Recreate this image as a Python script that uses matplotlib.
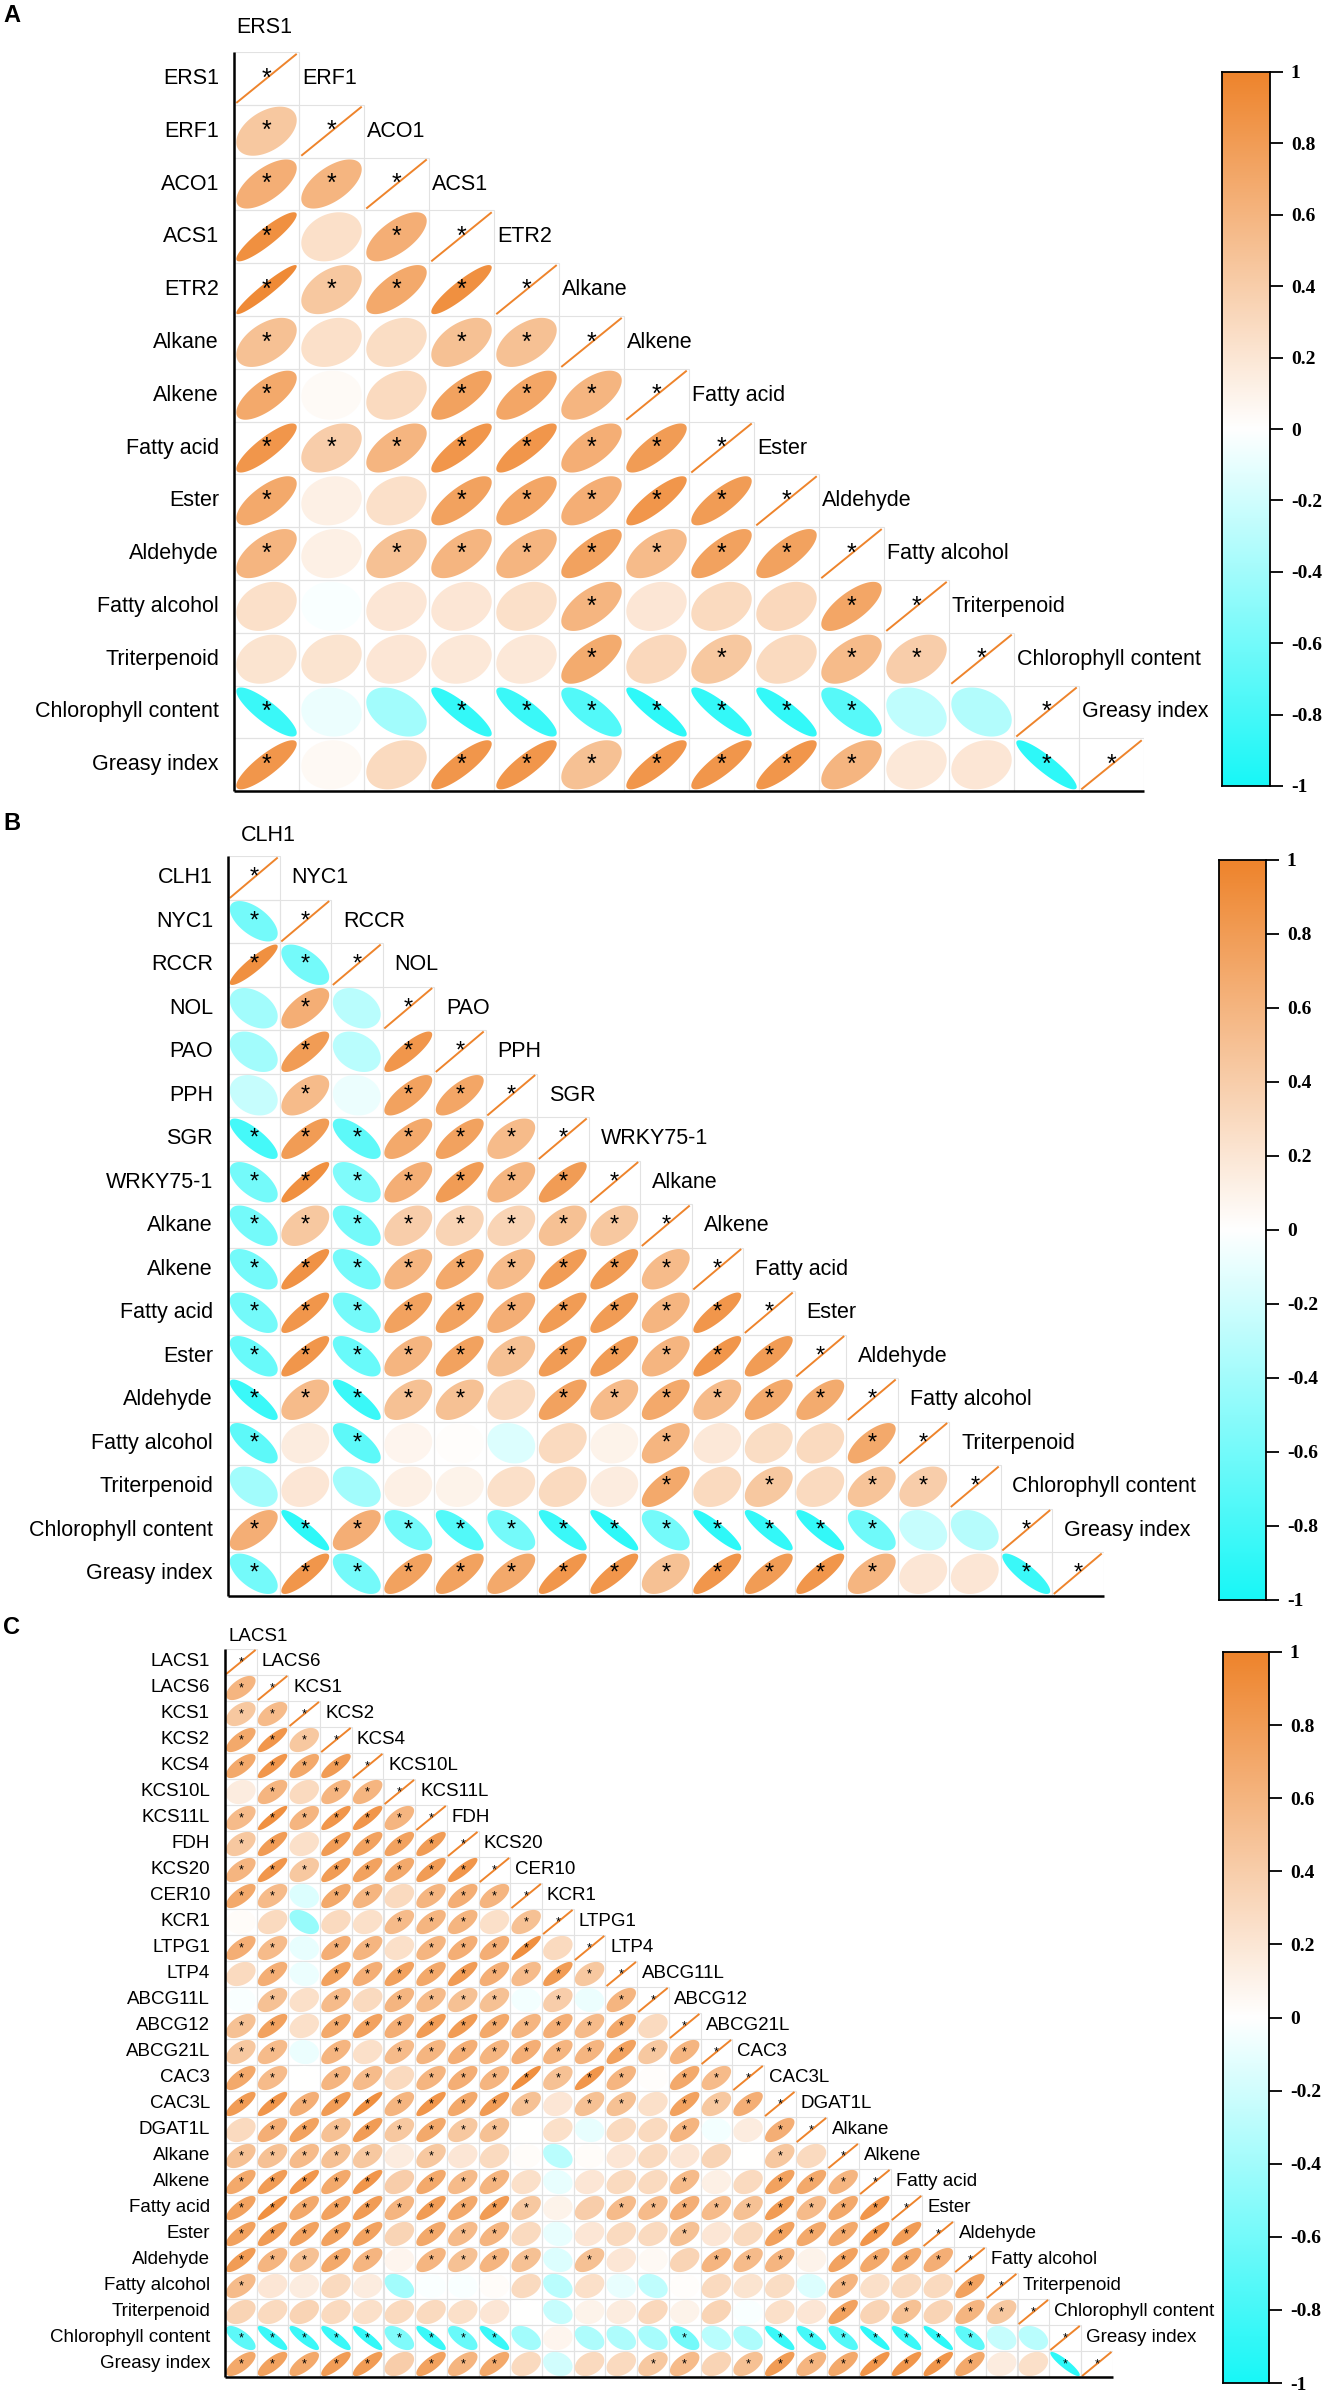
import numpy as np
import matplotlib.pyplot as plt
from matplotlib.colors import LinearSegmentedColormap
from matplotlib.patches import Polygon, Rectangle

# ---------------- data (lower triangle, row i holds columns 0..i-1) ----------------
a_names = ['ERS1', 'ERF1', 'ACO1', 'ACS1', 'ETR2', 'Alkane', 'Alkene', 'Fatty acid',
           'Ester', 'Aldehyde', 'Fatty alcohol', 'Triterpenoid', 'Chlorophyll content',
           'Greasy index']
a_vals = [
    [],
    [0.45],
    [0.65, 0.6],
    [0.9, 0.25, 0.65],
    [0.95, 0.45, 0.7, 0.9],
    [0.5, 0.25, 0.28, 0.5, 0.5],
    [0.7, 0.04, 0.3, 0.75, 0.72, 0.6],
    [0.85, 0.4, 0.6, 0.85, 0.85, 0.65, 0.8],
    [0.7, 0.12, 0.25, 0.75, 0.72, 0.65, 0.85, 0.8],
    [0.6, 0.12, 0.5, 0.6, 0.6, 0.75, 0.55, 0.75, 0.75],
    [0.25, -0.03, 0.2, 0.2, 0.25, 0.6, 0.2, 0.3, 0.32, 0.72],
    [0.22, 0.22, 0.2, 0.18, 0.18, 0.68, 0.32, 0.45, 0.3, 0.55, 0.4],
    [-0.85, -0.08, -0.4, -0.88, -0.85, -0.75, -0.9, -0.88, -0.88, -0.72, -0.28, -0.33],
    [0.85, 0.05, 0.3, 0.85, 0.85, 0.5, 0.85, 0.85, 0.85, 0.6, 0.18, 0.2, -0.9],
]
a_sig = ['', '1', '11', '101', '1111', '10011', '100111', '1111111', '10011111',
         '101111111', '0000010001', '00000101011', '100111111100', '1001111111001']

b_names = ['CLH1', 'NYC1', 'RCCR', 'NOL', 'PAO', 'PPH', 'SGR', 'WRKY75-1', 'Alkane',
           'Alkene', 'Fatty acid', 'Ester', 'Aldehyde', 'Fatty alcohol', 'Triterpenoid',
           'Chlorophyll content', 'Greasy index']
b_vals = [
    [],
    [-0.6],
    [0.9, -0.6],
    [-0.4, 0.65, -0.3],
    [-0.4, 0.8, -0.3, 0.85],
    [-0.25, 0.55, -0.08, 0.75, 0.72],
    [-0.8, 0.8, -0.7, 0.7, 0.75, 0.55],
    [-0.6, 0.9, -0.55, 0.65, 0.8, 0.6, 0.8],
    [-0.6, 0.45, -0.6, 0.4, 0.35, 0.35, 0.5, 0.45],
    [-0.6, 0.88, -0.6, 0.6, 0.7, 0.55, 0.8, 0.8, 0.55],
    [-0.6, 0.85, -0.6, 0.75, 0.75, 0.65, 0.8, 0.8, 0.6, 0.85],
    [-0.65, 0.85, -0.65, 0.6, 0.75, 0.5, 0.8, 0.8, 0.6, 0.85, 0.8],
    [-0.85, 0.55, -0.85, 0.5, 0.5, 0.3, 0.75, 0.55, 0.7, 0.55, 0.7, 0.68],
    [-0.7, 0.15, -0.7, 0.08, 0.02, -0.15, 0.3, 0.1, 0.6, 0.18, 0.28, 0.3, 0.7],
    [-0.4, 0.2, -0.4, 0.12, 0.1, 0.25, 0.3, 0.15, 0.7, 0.3, 0.45, 0.3, 0.48, 0.4],
    [0.65, -0.9, 0.65, -0.6, -0.75, -0.6, -0.85, -0.9, -0.6, -0.9, -0.88, -0.88, -0.62, -0.25, -0.32],
    [-0.6, 0.85, -0.6, 0.75, 0.75, 0.7, 0.85, 0.85, 0.5, 0.85, 0.8, 0.85, 0.6, 0.2, 0.2, -0.85],
]
b_sig = ['', '1', '11', '010', '0101', '01011', '111111', '1111111', '11111111',
         '111111111', '1111111111', '11111111111', '111110111111', '1010000010001',
         '00000000101011', '111111111111100', '1111111111111001']

c_names = ['LACS1', 'LACS6', 'KCS1', 'KCS2', 'KCS4', 'KCS10L', 'KCS11L', 'FDH', 'KCS20',
           'CER10', 'KCR1', 'LTPG1', 'LTP4', 'ABCG11L', 'ABCG12', 'ABCG21L', 'CAC3',
           'CAC3L', 'DGAT1L', 'Alkane', 'Alkene', 'Fatty acid', 'Ester', 'Aldehyde',
           'Fatty alcohol', 'Triterpenoid', 'Chlorophyll content', 'Greasy index']
c_vals = [
    [],
    [0.6],
    [0.45, 0.55],
    [0.7, 0.85, 0.45],
    [0.7, 0.85, 0.7, 0.8],
    [0.15, 0.6, 0.3, 0.6, 0.6],
    [0.55, 0.9, 0.6, 0.85, 0.85, 0.6],
    [0.45, 0.8, 0.25, 0.8, 0.75, 0.75, 0.8],
    [0.6, 0.85, 0.45, 0.8, 0.75, 0.7, 0.8, 0.85],
    [0.7, 0.55, -0.15, 0.7, 0.6, 0.3, 0.6, 0.65, 0.6],
    [0.03, 0.3, -0.45, 0.3, 0.25, 0.55, 0.6, 0.6, 0.25, 0.5],
    [0.65, 0.55, -0.1, 0.65, 0.6, 0.25, 0.6, 0.65, 0.65, 0.9, 0.3],
    [0.3, 0.65, -0.08, 0.75, 0.65, 0.75, 0.7, 0.8, 0.65, 0.55, 0.8, 0.45],
    [-0.03, 0.5, 0.25, 0.55, 0.3, 0.6, 0.55, 0.5, 0.5, -0.05, 0.4, -0.08, 0.6],
    [0.5, 0.75, 0.25, 0.7, 0.75, 0.65, 0.8, 0.8, 0.7, 0.6, 0.65, 0.55, 0.7, 0.3],
    [0.45, 0.55, -0.08, 0.6, 0.25, 0.55, 0.6, 0.65, 0.6, 0.65, 0.6, 0.6, 0.75, 0.45, 0.6],
    [0.7, 0.55, 0.0, 0.6, 0.55, 0.3, 0.6, 0.65, 0.6, 0.9, 0.5, 0.85, 0.6, 0.02, 0.7, 0.55],
    [0.8, 0.85, 0.65, 0.8, 0.9, 0.6, 0.85, 0.7, 0.8, 0.5, 0.2, 0.5, 0.5, 0.25, 0.75, 0.45, 0.65],
    [0.3, 0.65, 0.75, 0.5, 0.8, 0.45, 0.7, 0.45, 0.5, 0.0, 0.25, -0.1, 0.3, 0.3, 0.6, -0.05,
     0.15, 0.65],
    [0.5, 0.5, 0.55, 0.5, 0.45, 0.15, 0.45, 0.2, 0.3, 0.03, -0.3, 0.03, 0.2, 0.3, 0.2, 0.35,
     0.0, 0.45, 0.3],
    [0.7, 0.8, 0.85, 0.7, 0.85, 0.4, 0.7, 0.55, 0.6, 0.25, -0.1, 0.2, 0.3, 0.3, 0.55, 0.12,
     0.3, 0.75, 0.7, 0.6],
    [0.75, 0.9, 0.7, 0.75, 0.8, 0.6, 0.8, 0.7, 0.8, 0.45, 0.1, 0.4, 0.55, 0.55, 0.65, 0.55,
     0.5, 0.8, 0.55, 0.7, 0.85],
    [0.75, 0.8, 0.75, 0.75, 0.75, 0.35, 0.7, 0.55, 0.6, 0.3, -0.1, 0.2, 0.3, 0.3, 0.5, 0.2,
     0.3, 0.75, 0.7, 0.7, 0.85, 0.8],
    [0.8, 0.6, 0.5, 0.7, 0.6, 0.08, 0.6, 0.5, 0.6, 0.5, -0.15, 0.5, 0.2, 0.05, 0.35, 0.6,
     0.55, 0.6, 0.1, 0.75, 0.7, 0.7, 0.65],
    [0.55, 0.2, 0.15, 0.3, 0.15, -0.4, -0.02, -0.03, 0.03, 0.3, -0.3, 0.25, -0.1, -0.28, 0.02,
     0.3, 0.22, 0.28, -0.15, 0.6, 0.25, 0.3, 0.3, 0.75],
    [0.35, 0.3, 0.35, 0.3, 0.25, 0.3, 0.3, 0.25, 0.2, 0.0, -0.25, 0.1, 0.15, 0.32, 0.1, 0.35,
     -0.03, 0.25, 0.2, 0.75, 0.35, 0.5, 0.35, 0.6, 0.45],
    [-0.7, -0.85, -0.85, -0.85, -0.88, -0.55, -0.85, -0.65, -0.85, -0.4, 0.08, -0.35, -0.35,
     -0.38, -0.6, -0.3, -0.35, -0.85, -0.8, -0.75, -0.9, -0.85, -0.9, -0.7, -0.25, -0.3],
    [0.7, 0.75, 0.7, 0.8, 0.8, 0.4, 0.75, 0.6, 0.7, 0.3, -0.2, 0.3, 0.3, 0.45, 0.55, 0.35,
     0.5, 0.8, 0.6, 0.7, 0.85, 0.85, 0.85, 0.7, 0.15, 0.25, -0.9],
]
c_sig = ['', '1', '11', '111', '1111', '01011', '111111', '1101111', '11111111',
         '110110111', '0000011101', '11011011110', '010111111111', '0101011110101',
         '11011111111110', '110101111111111', '1101101111111011', '11111111110110111',
         '011111111000001001', '1111101000000000010', '11111011100000100111',
         '111111111100111111111', '1111101110000010011111', '11111011110100011101111',
         '100000000000000000010001', '0000000000000000000101011',
         '11111111100000100111111100', '111110111000011011111111001']

W, H = 1323, 2391
cmap = LinearSegmentedColormap.from_list('cyan_orange', ['#18F7F7', '#FFFFFF', '#EE842C'])
label_font = 'Liberation Sans'
tick_font = 'Liberation Serif'

fig = plt.figure(figsize=(W / 100, H / 100), dpi=100)

t = np.linspace(0, 2 * np.pi, 120)


def draw_panel(names, vals, sig, left, top, cw, ch, fs, star_fs, off, head_off, letter,
               letter_y, cbar):
    n = len(names)
    ax = fig.add_axes([left / W, 1 - (top + n * ch) / H, n * cw / W, n * ch / H])
    ax.set_xlim(0, n)
    ax.set_ylim(n, 0)
    ax.axis('off')
    s = 0.465
    for i in range(n):
        for j in range(i + 1):
            ax.add_patch(Rectangle((j, i), 1, 1, fc='none', ec='#e2e2e2', lw=0.8))
            cx, cy = j + 0.5, i + 0.5
            if j == i:
                ax.plot([cx - s, cx + s], [cy + s, cy - s], color=cmap(1.0), lw=1.4,
                        solid_capstyle='butt')
                ax.text(cx, cy, '*', ha='center', va='center', fontsize=star_fs,
                        family=label_font)
                continue
            r = vals[i][j]
            a = np.arccos(r)
            xs = cx + s * np.cos(t + a / 2)
            ys = cy - s * np.cos(t - a / 2)
            ax.add_patch(Polygon(np.column_stack([xs, ys]), closed=True,
                                 fc=cmap((r + 1) / 2), ec='none'))
            if sig[i][j] == '1':
                ax.text(cx, cy, '*', ha='center', va='center', fontsize=star_fs,
                        family=label_font)
    # axis lines
    ax.plot([0, 0], [0, n], color='black', lw=1.8, clip_on=False, solid_capstyle='butt')
    ax.plot([0, n], [n, n], color='black', lw=1.8, clip_on=False, solid_capstyle='butt')
    # labels
    for i, name in enumerate(names):
        ax.text(-15 / cw, i + 0.5, name, ha='right', va='center', fontsize=fs,
                family=label_font)
    ax.text(head_off / cw, -0.47, names[0], ha='left', va='center', fontsize=fs,
            family=label_font)
    for j in range(1, n):
        ax.text(j + off / cw, j - 0.5, names[j], ha='left', va='center', fontsize=fs,
                family=label_font)
    fig.text(3 / W, 1 - letter_y / H, letter, ha='left', va='center', fontsize=17,
             fontweight='bold', family=label_font)

    # colour bar
    cl, ct, cr, cb = cbar
    cax = fig.add_axes([cl / W, 1 - cb / H, (cr - cl) / W, (cb - ct) / H])
    grad = np.linspace(1, -1, 256).reshape(-1, 1)
    cax.imshow(grad, cmap=cmap, vmin=-1, vmax=1, aspect='auto', extent=[0, 1, -1, 1])
    ticks = np.round(np.arange(-1, 1.01, 0.2), 1)
    cax.set_yticks(ticks)
    cax.set_yticklabels([('%g' % (v + 0.0)) for v in ticks], fontsize=14,
                        fontweight='bold', family=tick_font)
    cax.yaxis.tick_right()
    cax.tick_params(axis='y', length=9, width=1.3, pad=6)
    cax.set_xticks([])
    cax.set_ylim(-1, 1)
    for sp in cax.spines.values():
        sp.set_linewidth(1.3)


draw_panel(a_names, a_vals, a_sig, 234, 52, 65.0, 52.8, 15.5, 18, 3, 2, 'A', 16,
           (1222, 72, 1270, 786))
draw_panel(b_names, b_vals, b_sig, 228, 856, 51.5, 43.5, 15.5, 17, 12, 13, 'B', 823,
           (1219, 860, 1266, 1600))
draw_panel(c_names, c_vals, c_sig, 225, 1649, 31.7, 26.0, 13.5, 9, 5, 4, 'C', 1628,
           (1223, 1652, 1269, 2383))

fig.savefig('out.png', dpi=100, facecolor='white')
